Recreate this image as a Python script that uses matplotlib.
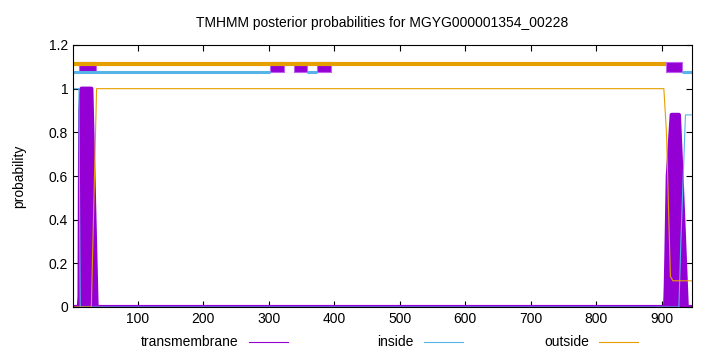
import matplotlib
matplotlib.use("Agg")
import matplotlib.pyplot as plt
from matplotlib.lines import Line2D

plt.rcParams['font.family'] = ['Liberation Sans', 'DejaVu Sans']
plt.rcParams['font.size'] = 10

PURPLE = '#9400d3'
BLUE = '#56b4e9'
ORANGE = '#e69f00'

SEQ_LEN = 946

# posterior curves (position, probability)
tm_x = [1, 10, 11, 12, 14, 29, 37, 38, 904, 905, 906, 907, 909, 915, 926, 930, 938, 946]
tm_y = [0, 0, 0.05, 0.9, 1.0, 1.0, 0.0, 0, 0, 0, 0.1, 0.25, 0.6, 0.88, 0.88, 0.6, 0, 0]

in_x = [1, 10, 12, 13, 926, 929, 936, 946]
in_y = [1.0, 1.0, 0.0, 0, 0, 0.3, 0.88, 0.88]

out_x = [1, 29, 37, 903, 907, 913, 917, 946]
out_y = [0, 0, 1.0, 1.0, 0.8, 0.14, 0.12, 0.12]

# predicted topology band at the top
tm_segments = [(10, 36), (301, 323), (338, 359), (373, 395), (907, 930)]
in_segments = [(1, 301), (359, 373), (930, 946)]
out_segments = [(1, 907)]

fig = plt.figure(figsize=(7.2, 3.52), dpi=100)
ax = fig.add_axes([73 / 720, 1 - 307 / 352, (692 - 73) / 720, (307 - 45) / 352])

ax.fill_between(tm_x, tm_y, color=PURPLE, lw=0)
ax.plot(tm_x, tm_y, color=PURPLE, lw=3)
ax.plot(in_x, in_y, color=BLUE, lw=0.8)
ax.plot(out_x, out_y, color=ORANGE, lw=0.8)

for a, b in out_segments:
    ax.plot([a, b], [1.115, 1.115], color=ORANGE, lw=3, solid_capstyle='butt')
for a, b in in_segments:
    ax.plot([a, b], [1.078, 1.078], color=BLUE, lw=2.2, solid_capstyle='butt')
for a, b in tm_segments:
    ax.fill_between([a, b], 1.075, 1.12, color=PURPLE, edgecolor='#c060f0', lw=0.8)

ax.set_xlim(1, SEQ_LEN)
ax.set_ylim(0, 1.2)
ax.set_xticks(range(100, 1000, 100))
ax.set_yticks([0, 0.2, 0.4, 0.6, 0.8, 1.0, 1.2])
ax.set_yticklabels(['0', '0.2', '0.4', '0.6', '0.8', '1', '1.2'])
ax.tick_params(direction='in', top=True, right=True, length=4, labelsize=10)
ax.set_ylabel('probability', fontsize=10, labelpad=16)
for s in ax.spines.values():
    s.set_linewidth(0.8)
ax.set_title('TMHMM posterior probabilities for MGYG000001354_00228', fontsize=10, pad=13)

# gnuplot-style key below the plot
key = [('transmembrane', PURPLE, 238, 249, 288),
       ('inside', BLUE, 414, 424, 463),
       ('outside', ORANGE, 589, 599, 638)]
for label, col, tx, l0, l1 in key:
    fig.text(tx / 720, 1 - 342 / 352, label, ha='right', va='center', fontsize=10)
    fig.add_artist(Line2D([l0 / 720, l1 / 720], [1 - 342 / 352] * 2, color=col, lw=0.8))

fig.savefig('out.png', dpi=100)
